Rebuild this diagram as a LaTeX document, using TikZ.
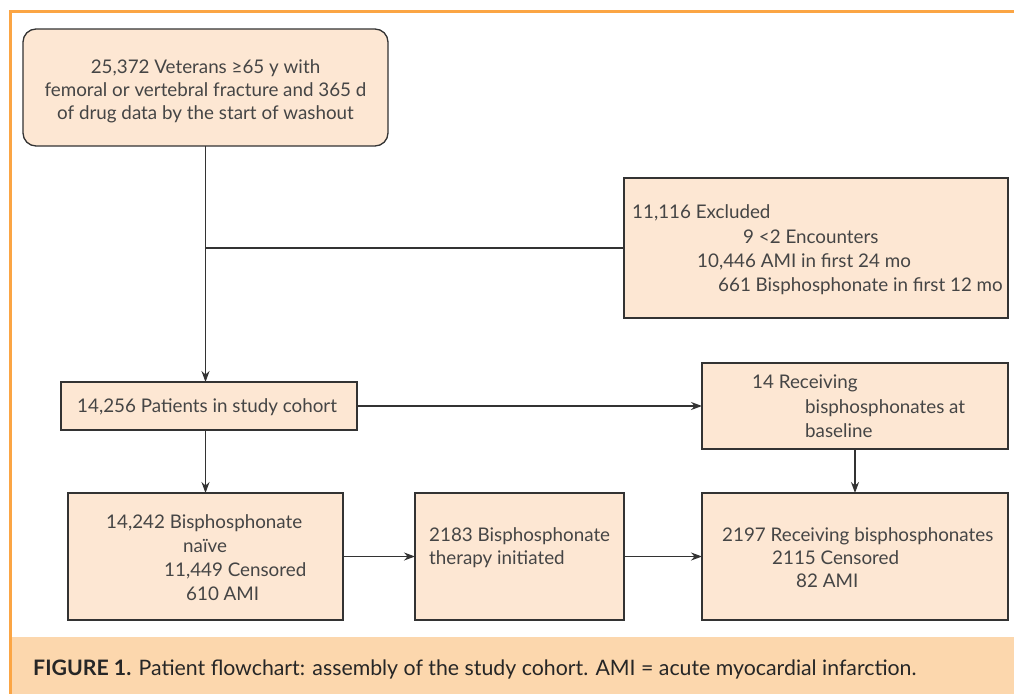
\documentclass[tikz,border=0pt]{standalone}
\usepackage{fontspec}
\setmainfont{Lato}
\usetikzlibrary{arrows.meta}
\definecolor{orng}{HTML}{FBA544}
\definecolor{capfill}{HTML}{FCD7AD}
\definecolor{boxfill}{HTML}{FDE7D3}
\definecolor{ln}{HTML}{333333}
\definecolor{txt}{HTML}{454545}
\begin{document}
\begin{tikzpicture}[x=1pt,y=-1pt,
  box/.style={draw=ln, line width=1.3pt, fill=boxfill, inner sep=0pt, outer sep=0pt, anchor=north west},
  lbl/.style={anchor=base west, inner sep=0pt, text=txt, font=\fontsize{18.8}{22}\selectfont},
  clbl/.style={lbl, anchor=base},
  conn/.style={draw=ln, line width=1.3pt},
  arr/.style={conn, -{Stealth[length=11pt,width=8pt]}},
]
\useasboundingbox[fill=white] (0,0) rectangle (1014,694);
% caption band and frame
\fill[capfill] (12,637) rectangle (1014,694);
\draw[orng, line width=3pt] (1014,11.5) -- (10,11.5) -- (10,694);
\node[anchor=base west, inner sep=0pt, text=black!85, font=\fontsize{21.3}{24}\selectfont] (cap) at (33,675)
  {{\bfseries FIGURE 1.} Patient flowchart: assembly of the study cohort. AMI = acute myocardial infarction.};

% boxes
\node[box, rounded corners=13pt, minimum width=365pt, minimum height=117pt] (start) at (23,29) {};
\node[box, minimum width=384pt, minimum height=140pt] (excl) at (624,178) {};
\node[box, minimum width=296pt, minimum height=48pt] (cohort) at (61,382) {};
\node[box, minimum width=306pt, minimum height=86pt] (base) at (702,363) {};
\node[box, minimum width=275pt, minimum height=127pt] (naive) at (68,493) {};
\node[box, minimum width=209pt, minimum height=127pt] (ther) at (415,493) {};
\node[box, minimum width=306pt, minimum height=127pt] (recv) at (702,493) {};

% texts
\node[clbl] (s1) at (205.5,73) {25,372 Veterans ≥65 y with};
\node[clbl] (s2) at (205.5,96) {femoral or vertebral fracture and 365 d};
\node[clbl] (s3) at (205.5,119) {of drug data by the start of washout};

\node[lbl] (e1) at (632,218) {11,116 Excluded};
\node[lbl] (e2) at (743,243) {9 <2 Encounters};
\node[lbl] (e3) at (697,267) {10,446 AMI in first 24 mo};
\node[lbl] (e4) at (718,291) {661 Bisphosphonate in first 12 mo};

\node[lbl] (c1) at (77,412) {14,256 Patients in study cohort};

\node[lbl] (b1) at (752,388) {14 Receiving};
\node[lbl] (b2) at (805,413) {bisphosphonates at};
\node[lbl] (b3) at (805,437) {baseline};

\node[lbl] (n1) at (106,528) {14,242 Bisphosphonate};
\node[lbl] (n2) at (183,552) {naïve};
\node[lbl] (n3) at (164,576) {11,449 Censored};
\node[lbl] (n4) at (186,600) {610 AMI};

\node[lbl] (t1) at (429,541) {2183 Bisphosphonate};
\node[lbl] (t2) at (429,564) {therapy initiated};

\node[lbl] (r1) at (722,541) {2197 Receiving bisphosphonates};
\node[lbl] (r2) at (772,564) {2115 Censored};
\node[lbl] (r3) at (796,587) {82 AMI};

% connectors
\draw[arr] (start.south) -- (start.south |- cohort.north);
\coordinate (j) at (start.south |- excl.west);
\draw[conn] (j) -- (excl.west);
\draw[arr] (cohort.east) -- (cohort.east -| base.west);
\draw[arr] (naive.north |- cohort.south) -- (naive.north);
\draw[arr] (naive.east) -- (ther.west);
\draw[arr] (ther.east) -- (recv.west);
\draw[arr] (base.south) -- (recv.north);
\end{tikzpicture}
\end{document}
